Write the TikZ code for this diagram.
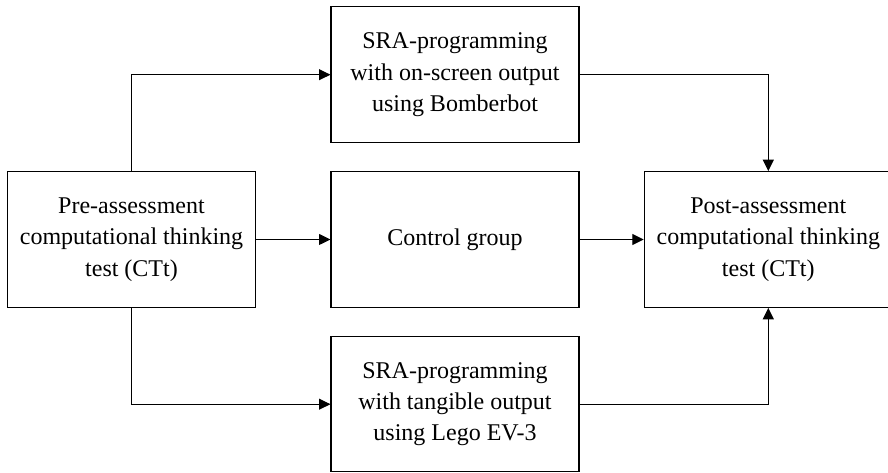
\documentclass[tikz,border=0pt]{standalone}
\usepackage{fontspec}
\setmainfont{Liberation Serif}
\usetikzlibrary{arrows.meta}
\begin{document}
\begin{tikzpicture}[x=0.75pt,y=-0.75pt,
  boxnode/.style={draw,line width=0.8pt,inner sep=0pt,minimum width=186pt,minimum height=101.7pt,align=center,font=\fontsize{18}{23.5}\selectfont},
  conn/.style={line width=0.8pt,-{Triangle[length=8.6pt,width=8.2pt]}}]
\useasboundingbox (0,0) rectangle (888,473);
\clip (0,0) rectangle (888,473);
\fill[white] (0,0) rectangle (888,473);
\node[boxnode] (pre) at (131.5,239.5) {Pre-assessment\\computational thinking\\test (CTt)};
\node[boxnode] (top) at (455,74.7) {SRA-programming\\with on-screen output\\using Bomberbot};
\node[boxnode] (ctrl) at (455,239.5) {Control group};
\node[boxnode,minimum height=101.25pt] (bot) at (455,404.2) {SRA-programming\\with tangible output\\using Lego EV-3};
\node[boxnode] (post) at (768.3,239.5) {Post-assessment\\computational thinking\\test (CTt)};
\draw[conn] (pre.north) |- (top.west);
\draw[conn] (pre.south) |- (bot.west);
\draw[conn] (pre.east) -- (ctrl.west);
\draw[conn] (ctrl.east) -- (post.west);
\draw[conn] (top.east) -| (post.north);
\draw[conn] (bot.east) -| (post.south);
\end{tikzpicture}
\end{document}
